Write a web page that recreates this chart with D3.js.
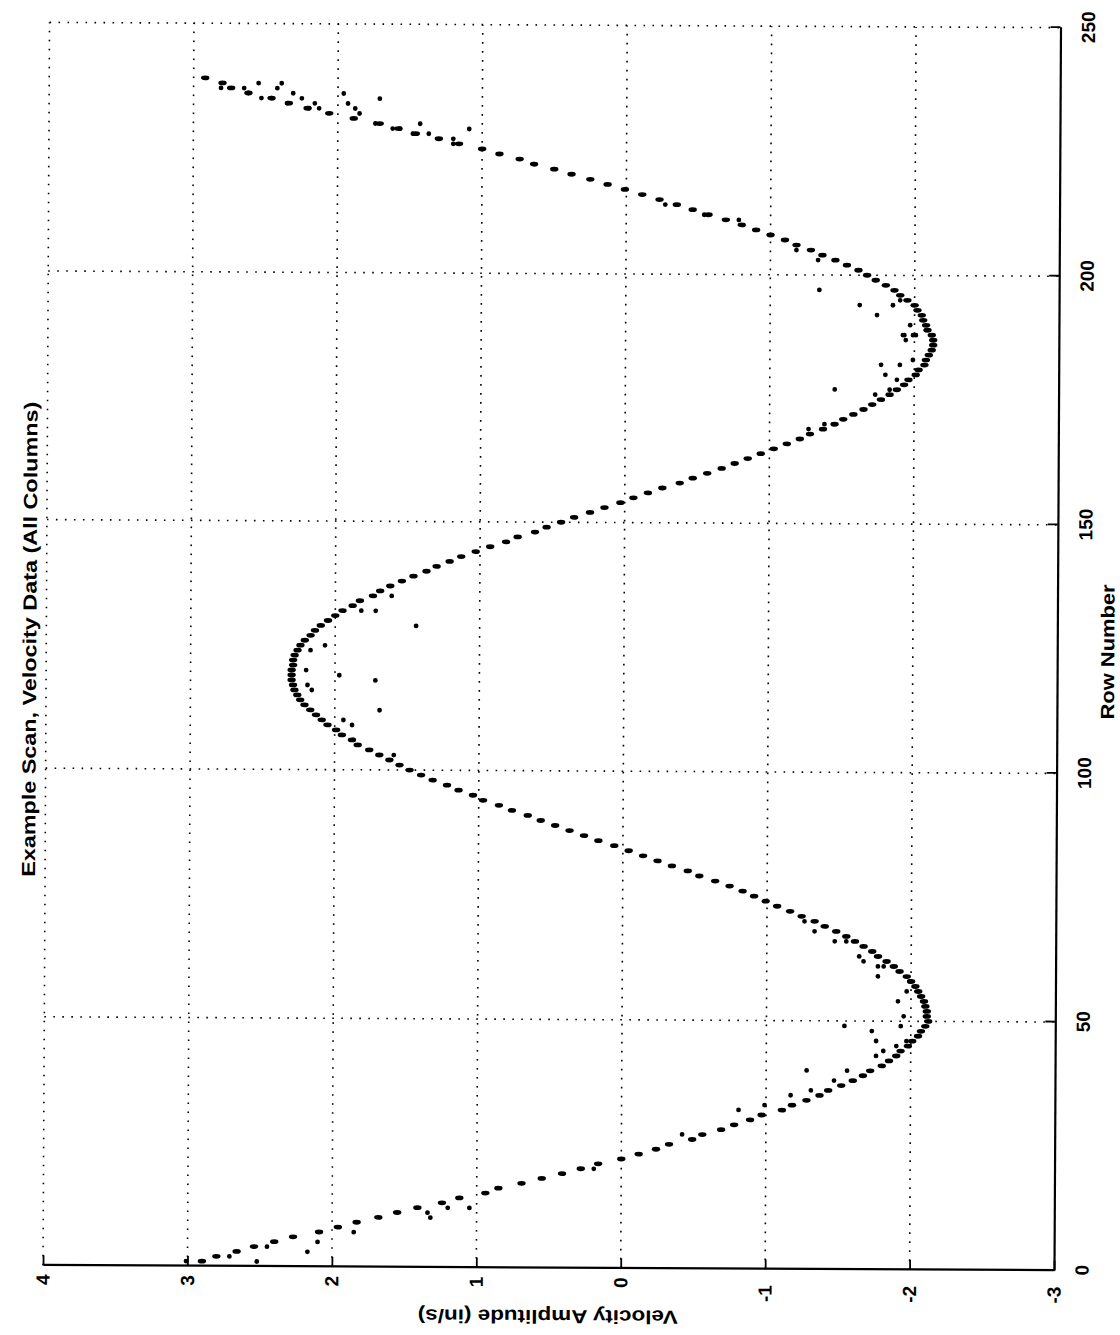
<!DOCTYPE html>
<html>
<head>
<meta charset="utf-8">
<script src="https://cdn.jsdelivr.net/npm/d3@7"></script>
<style>
  body { margin: 0; background: #fff; }
  text { font-family: "Liberation Sans", Arial, Helvetica, sans-serif; font-weight: bold; fill: #000; }
</style>
</head>
<body>
<div id="chart"></div>
<script>
// velocity (in/s) read for each row, starting at row 1
let firstRow = 1;
let velocity = [
  2.90, 2.80, 2.66, 2.54, 2.40, 2.27, 2.09, 1.96, 1.83, 1.68,
  1.55, 1.41, 1.24, 1.12, 0.94, 0.85, 0.69, 0.55, 0.41, 0.28,
  0.16, 0.00, -0.12, -0.24, -0.33, -0.49, -0.56, -0.69, -0.78, -0.89,
  -0.97, -1.11, -1.18, -1.28, -1.37, -1.43, -1.52, -1.60, -1.67, -1.72,
  -1.80, -1.85, -1.90, -1.93, -1.98, -2.01, -2.05, -2.07, -2.10, -2.12,
  -2.11, -2.11, -2.10, -2.09, -2.07, -2.05, -2.03, -2.00, -1.97, -1.92,
  -1.88, -1.83, -1.77, -1.73, -1.67, -1.61, -1.55, -1.48, -1.40, -1.33,
  -1.24, -1.16, -1.07, -0.99, -0.91, -0.83, -0.74, -0.64, -0.53, -0.45,
  -0.34, -0.24, -0.14, -0.04, 0.06, 0.17, 0.27, 0.37, 0.47, 0.57,
  0.66, 0.77, 0.86, 0.97, 1.04, 1.14, 1.22, 1.32, 1.40, 1.48,
  1.55, 1.62, 1.69, 1.76, 1.84, 1.88, 1.95, 1.99, 2.05, 2.09,
  2.13, 2.17, 2.21, 2.24, 2.26, 2.28, 2.29, 2.30, 2.30, 2.30,
  2.29, 2.29, 2.28, 2.26, 2.24, 2.21, 2.17, 2.14, 2.10, 2.05,
  2.00, 1.95, 1.88, 1.83, 1.74, 1.69, 1.62, 1.54, 1.46, 1.37,
  1.30, 1.21, 1.13, 1.03, 0.93, 0.82, 0.74, 0.62, 0.54, 0.44,
  0.35, 0.24, 0.14, 0.03, -0.06, -0.16, -0.26, -0.38, -0.47, -0.57,
  -0.67, -0.76, -0.85, -0.94, -1.03, -1.12, -1.21, -1.28, -1.37, -1.45,
  -1.51, -1.58, -1.65, -1.71, -1.77, -1.83, -1.88, -1.93, -1.96, -2.01,
  -2.03, -2.07, -2.08, -2.10, -2.12, -2.13, -2.13, -2.12, -2.09, -2.08,
  -2.06, -2.05, -2.02, -2.00, -1.95, -1.90, -1.86, -1.80, -1.73, -1.67,
  -1.61, -1.53, -1.45, -1.36, -1.28, -1.18, -1.10, -1.00, -0.90, -0.80,
  -0.69, -0.57, -0.46, -0.35, -0.23, -0.11, 0.01, 0.13, 0.25, 0.38,
  0.50, 0.64, 0.74, 0.88, 1.00, 1.16, 1.30, 1.46, 1.58, 1.71,
  1.89, 2.06, 2.21, 2.34, 2.46, 2.62, 2.74, 2.80, 2.92
];

// extra columns that sit away from the main curve: [row, velocity]
let scatter = [
  [1, 3.01], [1, 2.52], [2, 2.71], [3, 2.17], [4, 2.45], [5, 2.10], [7, 1.85],
  [10, 1.32], [11, 1.34], [12, 1.20], [12, 1.05], [20, 0.19], [27, -0.42],
  [32, -0.81], [33, -0.99], [35, -1.17], [36, -1.31], [38, -1.47], [40, -1.28],
  [40, -1.56], [43, -1.76], [44, -1.81], [45, -1.90], [46, -1.76], [46, -1.97],
  [48, -1.73], [49, -1.54], [49, -1.93],
  [51, -1.95], [54, -1.91], [56, -1.97], [58, -1.99], [59, -1.77], [61, -1.77],
  [61, -1.81], [62, -1.67], [63, -1.64], [66, -1.47], [66, -1.55], [68, -1.33],
  [70, -1.26], [103, 1.59], [106, 1.87], [109, 1.88], [110, 1.94], [112, 1.69],
  [116, 2.16], [117, 2.19], [118, 1.72], [119, 1.97], [120, 2.20],
  [124, 2.17], [125, 2.07], [129, 1.44], [132, 1.72], [132, 1.82], [135, 1.61],
  [169, -1.27], [170, -1.38], [176, -1.73], [177, -1.45], [177, -1.83],
  [179, -1.88], [180, -1.80], [182, -1.77], [182, -1.90], [183, -1.99],
  [187, -1.94], [188, -1.93], [188, -2.01], [188, -1.99], [188, -1.92],
  [190, -1.97], [192, -1.74], [194, -1.62], [194, -1.85], [195, -1.90],
  [197, -1.34], [203, -1.33], [205, -1.18], [211, -0.78], [212, -0.54],
  [214, -0.27], [222, 0.64], [226, 1.20], [227, 1.20], [229, 1.09], [228, 1.37],
  [228, 1.48], [229, 1.57], [229, 1.62], [230, 1.43], [230, 1.74], [232, 1.85],
  [233, 1.88], [234, 1.93], [235, 1.71], [236, 1.96], [233, 2.13], [233, 2.20],
  [234, 2.16], [235, 2.25], [234, 2.35], [236, 2.31], [238, 2.39], [237, 2.42],
  [235, 2.46], [235, 2.53], [238, 2.55], [236, 2.62], [237, 2.65], [237, 2.81]
];

let rowTicks = [0, 50, 100, 150, 200, 250];
let velTicks = [-3, -2, -1, 0, 1, 2, 3, 4];

let titleText = "Example Scan, Velocity Data (All Columns)";
let xTitle = "Row Number";
let yTitle = "Velocity Amplitude (in/s)";

let svgWidth = 1120;
let svgHeight = 1335;

let svg = d3.select("#chart")
  .append("svg")
  .attr("width", svgWidth)
  .attr("height", svgHeight);

// the page was printed landscape and scanned sideways, so draw the chart
// upright and turn the whole group a quarter turn
let page = svg.append("g")
  .attr("transform", `rotate(0.3, 548, 1268) translate(0, ${svgHeight}) rotate(-90)`);

let x = d3.scaleLinear().domain([0, 250]).range([67, 1310]);
let y = d3.scaleLinear().domain([-3, 4]).range([1054, 43]);

// dotted grid
let grid = page.append("g")
  .attr("stroke", "#000")
  .attr("stroke-width", 1.6)
  .attr("stroke-dasharray", "1.6 7.4");

grid.selectAll(".vgrid")
  .data(rowTicks.filter(d => d > 0))
  .join("line")
  .attr("x1", d => x(d)).attr("x2", d => x(d))
  .attr("y1", y(4)).attr("y2", y(-3));

grid.selectAll(".hgrid")
  .data(velTicks.filter(d => d > -3))
  .join("line")
  .attr("x1", x(0)).attr("x2", x(250))
  .attr("y1", d => y(d)).attr("y2", d => y(d));

// axes with inward ticks
let bottomAxis = d3.axisBottom(x)
  .tickValues(rowTicks)
  .tickSize(-10)
  .tickSizeOuter(0)
  .tickPadding(21)
  .tickFormat(d => String(d));

let leftAxis = d3.axisLeft(y)
  .tickValues(velTicks)
  .tickSize(-10)
  .tickSizeOuter(0)
  .tickPadding(9)
  .tickFormat(d => String(d));

let xAxis = page.append("g")
  .attr("transform", `translate(0, ${y(-3)})`)
  .call(bottomAxis);

let yAxis = page.append("g")
  .attr("transform", `translate(${x(0)}, 0)`)
  .call(leftAxis);

[xAxis, yAxis].forEach(a => {
  a.select(".domain").attr("stroke", "#000").attr("stroke-width", 2.2);
  a.selectAll(".tick line").attr("stroke", "#000").attr("stroke-width", 1.8);
  a.selectAll(".tick text")
    .attr("fill", "#000")
    .style("font-size", "19px")
    .style("font-family", "'Liberation Sans', Arial, Helvetica, sans-serif")
    .style("font-weight", "bold");
});

// negative labels sit a little further out than positive ones
yAxis.selectAll(".tick text")
  .attr("x", d => d < 0 ? -16 : -9);

// data points
page.append("g")
  .selectAll("ellipse")
  .data(velocity)
  .join("ellipse")
  .attr("cx", (d, i) => x(firstRow + i))
  .attr("cy", d => y(d))
  .attr("rx", 2.4)
  .attr("ry", 4.2)
  .attr("fill", "#000");

page.append("g")
  .selectAll("circle")
  .data(scatter)
  .join("circle")
  .attr("cx", d => x(d[0]))
  .attr("cy", d => y(d[1]))
  .attr("r", 2.4)
  .attr("fill", "#000");

// titles, stretched like the scan
page.append("text")
  .attr("x", 693)
  .attr("y", 33)
  .attr("text-anchor", "middle")
  .attr("textLength", 475)
  .attr("lengthAdjust", "spacingAndGlyphs")
  .style("font-size", "19px")
  .text(titleText);

page.append("text")
  .attr("x", 686)
  .attr("y", 1111)
  .attr("text-anchor", "middle")
  .attr("textLength", 135)
  .attr("lengthAdjust", "spacingAndGlyphs")
  .style("font-size", "19px")
  .text(xTitle);

page.append("text")
  .attr("transform", `translate(25, 548) rotate(-90)`)
  .attr("text-anchor", "middle")
  .attr("textLength", 260)
  .attr("lengthAdjust", "spacingAndGlyphs")
  .style("font-size", "19px")
  .text(yTitle);
</script>
</body>
</html>
